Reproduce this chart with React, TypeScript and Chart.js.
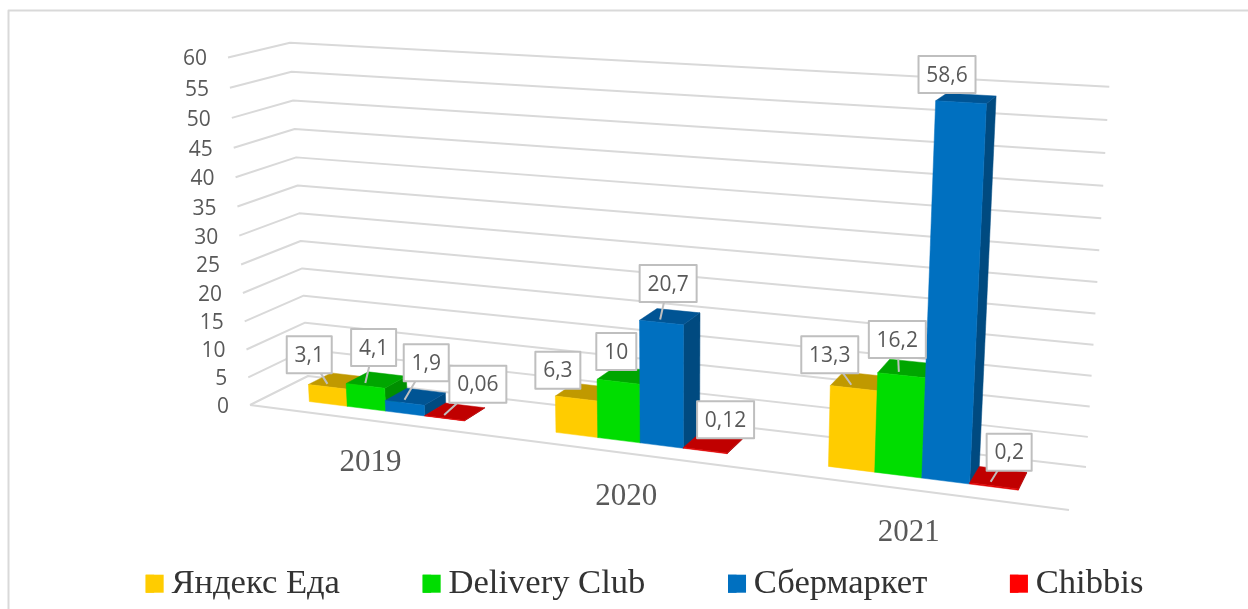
import React, { useEffect, useRef } from "react";
import { Chart, registerables } from "chart.js";

Chart.register(...registerables);

// ---- data ----
const categories = ["2019", "2020", "2021"];
const seriesNames = ["Яндекс Еда", "Delivery Club", "Сбермаркет", "Chibbis"];
const yandexEda = [3.1, 6.3, 13.3];
const deliveryClub = [4.1, 10, 16.2];
const sbermarket = [1.9, 20.7, 58.6];
const chibbis = [0.06, 0.12, 0.2];

// ---- styles ----
const legendColors = ["#FFCC00", "#00DD00", "#0070C0", "#FF0000"];
const topColors = ["#C09900", "#00A600", "#005494", "#C00000"];
const sideColors = ["#A88600", "#008F00", "#004A80", "#A00000"];
const frontColors = ["#FFCC00", "#00DD00", "#0070C0", "#E00000"];
const gridColor = "#D9D9D9";
const textColor = "#595959";
const labelFont = '21px "Open Sans"';
const catFont = '31px "Liberation Serif"';

// ---- projection: the scene's floor/wall planes on the picture ----
type P = [number, number];
const frontPlane: P[] = [[250, 405], [1069, 510], [1093, 106], [228, 57.5]];
const backPlane: P[] = [[308, 376], [1086, 467], [1109.3, 86.7], [290, 42.7]];
const barZ0 = 0.3;
const barZ1 = 0.7;

// label box offset from the bar's top, per series then per category
const labelOffsets: P[][] = [
  [[-18.2, -29], [-17.5, -25], [-21.5, -30]],
  [[8.3, -35.3], [-1, -27], [-1.5, -32.3]],
  [[21.7, -37], [8, -36], [-11, -25.8]],
  [[33.7, -30.6], [22, -27], [18.5, -29.5]],
];
const showLeader = [
  [true, false, true],
  [true, false, true],
  [true, true, false],
  [true, false, true],
];
const categoryLabelShift = [1, -1, -5];

function homography(q: P[]) {
  const [[x0, y0], [x1, y1], [x2, y2], [x3, y3]] = q;
  const dx1 = x1 - x2, dx2 = x3 - x2, sx = x0 - x1 + x2 - x3;
  const dy1 = y1 - y2, dy2 = y3 - y2, sy = y0 - y1 + y2 - y3;
  const den = dx1 * dy2 - dx2 * dy1;
  const g = (sx * dy2 - dx2 * sy) / den;
  const h = (dx1 * sy - sx * dy1) / den;
  const a = x1 - x0 + g * x1, b = x3 - x0 + h * x3;
  const d = y1 - y0 + g * y1, e = y3 - y0 + h * y3;
  return (u: number, v: number): P => {
    const w = g * u + h * v + 1;
    return [(a * u + b * v + x0) / w, (d * u + e * v + y0) / w];
  };
}
const frontH = homography(frontPlane);
const backH = homography(backPlane);
function project(u: number, v: number, z: number): P {
  const f = frontH(u, v), b = backH(u, v);
  return [f[0] + (b[0] - f[0]) * z, f[1] + (b[1] - f[1]) * z];
}

function poly(ctx: CanvasRenderingContext2D, pts: P[], fill: string) {
  ctx.beginPath();
  pts.forEach((p, i) => (i ? ctx.lineTo(p[0], p[1]) : ctx.moveTo(p[0], p[1])));
  ctx.closePath();
  ctx.fillStyle = fill;
  ctx.fill();
  ctx.strokeStyle = fill;
  ctx.lineWidth = 0.5;
  ctx.stroke();
}

function line(ctx: CanvasRenderingContext2D, pts: P[], color: string, width: number) {
  ctx.beginPath();
  pts.forEach((p, i) => (i ? ctx.lineTo(p[0], p[1]) : ctx.moveTo(p[0], p[1])));
  ctx.strokeStyle = color;
  ctx.lineWidth = width;
  ctx.lineJoin = "round";
  ctx.stroke();
}

const perspectivePlugin = {
  id: "perspective",
  beforeDatasetsDraw(chart: any) {
    const ctx: CanvasRenderingContext2D = chart.ctx;
    const area = chart.chartArea;
    const W = area.right - area.left;
    const H = area.bottom - area.top;
    const U = (x: number) => (x - area.left) / W;
    const V = (y: number) => (area.bottom - y) / H;
    const yScale = chart.scales.y;
    const xScale = chart.scales.x;

    ctx.save();
    // chart frame
    line(ctx, [[8.5, 609], [8.5, 10.5], [1248, 10.5]], gridColor, 2);

    // value grid over the walls, and the tick labels
    ctx.font = labelFont;
    ctx.textBaseline = "middle";
    ctx.textAlign = "right";
    for (const t of yScale.getTicks()) {
      const v = V(yScale.getPixelForValue(t.value));
      const a = project(0, v, 0);
      line(ctx, [a, project(0, v, 1), project(1, v, 1)], gridColor, 2);
      if (t.value === 0) line(ctx, [a, project(1, v, 0)], gridColor, 2);
      ctx.fillStyle = textColor;
      ctx.fillText(String(t.value), a[0] - 21, a[1] + 2);
    }

    // bars: category by category, series left to right
    const metas = chart.data.datasets.map((_: any, i: number) => chart.getDatasetMeta(i));
    categories.forEach((_, c) => {
      metas.forEach((meta: any, s: number) => {
        const el = meta.data[c];
        const u0 = U(el.x - el.width / 2), u1 = U(el.x + el.width / 2);
        const vb = V(el.base), vt = V(el.y);
        poly(ctx, [project(u1, vb, barZ0), project(u1, vb, barZ1), project(u1, vt, barZ1), project(u1, vt, barZ0)], sideColors[s]);
        poly(ctx, [project(u0, vt, barZ0), project(u1, vt, barZ0), project(u1, vt, barZ1), project(u0, vt, barZ1)], topColors[s]);
        poly(ctx, [project(u0, vb, barZ0), project(u1, vb, barZ0), project(u1, vt, barZ0), project(u0, vt, barZ0)], frontColors[s]);
      });
    });

    // category labels under the floor's front edge
    ctx.font = catFont;
    ctx.textAlign = "center";
    ctx.fillStyle = textColor;
    categories.forEach((name, c) => {
      const p = project(U(xScale.getPixelForValue(c)), 0, 0);
      ctx.fillText(name, p[0] + categoryLabelShift[c], p[1] + 43);
    });

    // value labels
    ctx.font = labelFont;
    const items: any[] = [];
    metas.forEach((meta: any, s: number) => {
      meta.data.forEach((el: any, c: number) => {
        const t = project(U(el.x), V(el.y), barZ0 + 0.1);
        const p: P = [t[0] - 5.5, t[1]];
        const o = labelOffsets[s][c];
        const cx = p[0] + o[0], cy = p[1] + o[1];
        const raw = chart.data.datasets[s].data[c];
        items.push({ p, cx, cy, text: String(raw).replace(".", ","), s, c });
      });
    });
    for (const it of items) {
      if (showLeader[it.s][it.c]) line(ctx, [it.p, [it.cx, it.cy]], "#BFBFBF", 2);
    }
    for (const it of items) {
      const w = Math.round(ctx.measureText(it.text).width) + 16;
      const h = 37;
      ctx.fillStyle = "#FFFFFF";
      ctx.fillRect(it.cx - w / 2, it.cy - h / 2, w, h);
      ctx.strokeStyle = "#BFBFBF";
      ctx.lineWidth = 2;
      ctx.strokeRect(it.cx - w / 2, it.cy - h / 2, w, h);
      ctx.fillStyle = textColor;
      ctx.textAlign = "center";
      ctx.fillText(it.text, it.cx, it.cy + 1);
    }

    // legend squares: the library's legend places them, full size here
    const hit = chart.legend.legendHitBoxes;
    hit.forEach((b: any, i: number) => {
      ctx.fillStyle = legendColors[i];
      const cy = b.top + b.height / 2;
      ctx.fillRect(b.left, cy - 9, 18, 18);
    });
    ctx.restore();
    return false;
  },
};

export default function App() {
  const ref = useRef<HTMLCanvasElement>(null);
  useEffect(() => {
    const series = [yandexEda, deliveryClub, sbermarket, chibbis];
    const chart = new Chart(ref.current as HTMLCanvasElement, {
      type: "bar",
      data: {
        labels: categories,
        datasets: series.map((data, i) => ({
          label: seriesNames[i],
          data,
          backgroundColor: legendColors[i],
          borderWidth: 0,
          categoryPercentage: 0.64,
          barPercentage: 1,
        })),
      },
      options: {
        animation: false,
        responsive: false,
        layout: { padding: { left: 41, bottom: -2 } },
        scales: {
          x: { display: false },
          y: { display: false, min: 0, max: 60, ticks: { stepSize: 5 } },
        },
        plugins: {
          tooltip: { enabled: false },
          legend: {
            position: "bottom",
            labels: {
              boxWidth: 8.5,
              boxHeight: 18,
              padding: 82.7,
              color: "#333333",
              font: { family: '"Liberation Serif"', size: 34.6, lineHeight: 0.87 },
            },
          },
        },
      },
      plugins: [perspectivePlugin],
    } as any);
    return () => chart.destroy();
  }, []);
  return (
    <canvas
      ref={ref}
      width={1248}
      height={609}
      style={{ position: "fixed", left: 0, top: 0, width: 1248, height: 609, display: "block" }}
    />
  );
}
